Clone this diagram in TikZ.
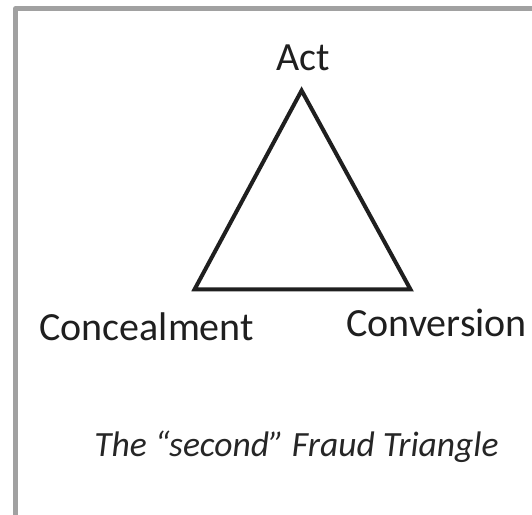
\documentclass[tikz,border=0pt]{standalone}
\usepackage{fontspec}
\setmainfont{Carlito}
\begin{document}
\begin{tikzpicture}[x=1pt,y=-1pt,
  frameline/.style={draw=black!37, line width=5pt, line join=round},
  sideline/.style={draw=black!88, line width=4pt, line join=miter},
  vertexlabel/.style={inner sep=0pt, anchor=base, text=black!88, font=\fontsize{40}{48}\selectfont},
  captionlabel/.style={inner sep=0pt, anchor=base, text=black!85, font=\fontsize{35.5}{42}\selectfont\itshape}]
  \useasboundingbox (0,0) rectangle (532,514);
  \fill[white] (0,0) rectangle (532,514);
  % frame, only its top and left edges fall inside the page
  \begin{scope}
    \clip (0,0) rectangle (532,514);
    \draw[frameline] (15.8,530) -- (15.8,8.5) -- (550,8.5);
  \end{scope}
  % corners of the triangle
  \coordinate (act) at (301.6,90.5);
  \coordinate (conc) at (194.6,289.3);
  \coordinate (conv) at (410.4,289.3);
  \draw[sideline] (act) -- (conv) -- (conc) -- cycle;
  % labels
  \node[vertexlabel] (actlabel) at (303.5,70) {Act};
  \node[vertexlabel] (conclabel) at (146.7,340) {Concealment};
  \node[vertexlabel] (convlabel) at (436.7,336.7) {Conversion};
  \node[captionlabel] (caption) at (296.5,456.7) {The “second” Fraud Triangle};
\end{tikzpicture}
\end{document}
